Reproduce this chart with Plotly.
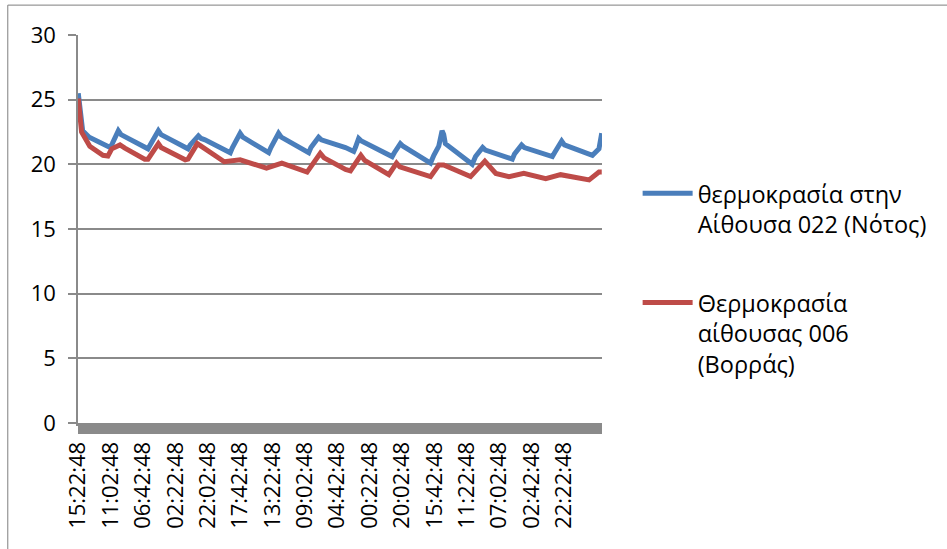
import datetime as dt
import plotly.graph_objects as go

# sample number (one sample every 20 minutes from the first timestamp)
start = dt.datetime(2013, 1, 14, 15, 22, 48)
sample_minutes = 20
label_every = 59  # a category label every 59 samples (19h40m)
n_labels = 16

blue_name = "θερμοκρασία στην<br>Αίθουσα 022 (Νότος)"
red_name = "Θερμοκρασία<br>αίθουσας 006<br>(Βορράς)"

blue_n = [0, 2, 5, 8, 20, 58, 62, 73, 78, 127, 131, 146, 151, 200, 204, 219, 224, 231,
          277, 281, 295, 300, 347, 351, 365, 370, 420, 424, 438, 443, 487, 502, 505, 511,
          516, 572, 576, 587, 592, 642, 648, 657, 663, 666, 669, 718, 724, 737, 742, 791,
          795, 808, 813, 864, 868, 881, 886, 937, 949, 954]
blue_v = [25.5, 24.6, 23.1, 22.6, 22.1, 21.3, 21.6, 22.6, 22.3, 21.2, 21.5, 22.6, 22.3, 21.2,
          21.5, 22.2, 22.0, 21.9, 20.9, 21.3, 22.4, 22.1, 20.9, 21.3, 22.4, 22.1, 20.9, 21.3,
          22.1, 21.9, 21.3, 21.0, 21.3, 22.0, 21.8, 20.6, 20.9, 21.6, 21.4, 20.1, 20.7, 21.4,
          22.6, 22.3, 21.6, 20.0, 20.6, 21.3, 21.1, 20.4, 20.8, 21.5, 21.3, 20.6, 20.9, 21.8,
          21.5, 20.7, 21.2, 22.4]

red_n = [0, 2, 6, 21, 45, 54, 61, 76, 85, 121, 127, 146, 151, 195, 200, 217, 240, 266, 295,
         343, 371, 417, 441, 448, 487, 496, 515, 522, 566, 580, 586, 642, 657, 666, 715, 733,
         741, 761, 785, 812, 852, 879, 931, 949, 954]
red_v = [25.1, 24.0, 22.5, 21.4, 20.7, 20.65, 21.2, 21.5, 21.25, 20.4, 20.4, 21.6, 21.3, 20.35,
         20.4, 21.6, 20.9, 20.2, 20.35, 19.7, 20.1, 19.4, 20.85, 20.5, 19.6, 19.5, 20.7, 20.3,
         19.2, 20.1, 19.8, 19.05, 19.95, 19.95, 19.05, 19.8, 20.25, 19.3, 19.05, 19.3, 18.9,
         19.2, 18.8, 19.4, 19.4]

y_ticks = [0, 5, 10, 15, 20, 25, 30]


def to_time(nums):
    return [start + dt.timedelta(minutes=sample_minutes * n) for n in nums]


label_times = to_time([k * label_every for k in range(n_labels)])
label_text = [t.strftime("%H:%M:%S") for t in label_times]

fig = go.Figure()
fig.add_trace(go.Scatter(x=to_time(blue_n), y=blue_v, mode="lines", name=blue_name,
                         line=dict(color="#4A7EBB", width=5), legendgroup="a"))
fig.add_trace(go.Scatter(x=to_time(red_n), y=red_v, mode="lines", name=red_name,
                         line=dict(color="#BE4B48", width=5), legendgroup="b"))

grid = "#8a8a8a"
font = "Open Sans"
last = max(blue_n + red_n)
fig.update_layout(
    width=947, height=549,
    margin=dict(l=78, r=345, t=35, b=126),
    paper_bgcolor="white", plot_bgcolor="white",
    font=dict(family=font, size=22, color="black"),
    showlegend=True,
    legend=dict(x=1.068, y=0.648, xanchor="left", yanchor="top", valign="top",
                tracegroupgap=45, itemwidth=50, font=dict(size=23.5),
                bgcolor="rgba(0,0,0,0)"),
    xaxis=dict(
        type="date", automargin=False,
        range=[start - dt.timedelta(minutes=10),
               start + dt.timedelta(minutes=sample_minutes * last + 10)],
        tickvals=label_times, ticktext=label_text, tickangle=-90,
        showgrid=False, zeroline=False,
        showline=True, linecolor=grid, linewidth=3,
        ticks="outside", ticklen=8, tickcolor=grid, tickwidth=1,
        minor=dict(ticks="outside", ticklen=8, tickcolor=grid, tickwidth=1,
                   dtick=sample_minutes * 60 * 1000, tick0=start, showgrid=False),
        ticklabelstandoff=-1,
        tickfont=dict(size=22),
    ),
    yaxis=dict(
        range=[0, 30], tickvals=y_ticks, automargin=False,
        showgrid=True, gridcolor=grid, gridwidth=1.5,
        zeroline=False, showline=True, linecolor=grid, linewidth=1.5,
        ticks="outside", ticklen=8, tickcolor=grid, tickwidth=1.5,
        ticklabelstandoff=8, tickfont=dict(size=22),
    ),
)

# chart frame (left and top edges)
fig.add_shape(type="line", xref="paper", yref="paper", x0=-0.134, x1=-0.134, y0=-0.33, y1=1.077,
              line=dict(color="#7f7f7f", width=1))
fig.add_shape(type="line", xref="paper", yref="paper", x0=-0.134, x1=1.8, y0=1.077, y1=1.077,
              line=dict(color="#7f7f7f", width=1))

fig.write_html("out.html", config={"displayModeBar": False},
               post_script="document.body.style.margin='0';")
